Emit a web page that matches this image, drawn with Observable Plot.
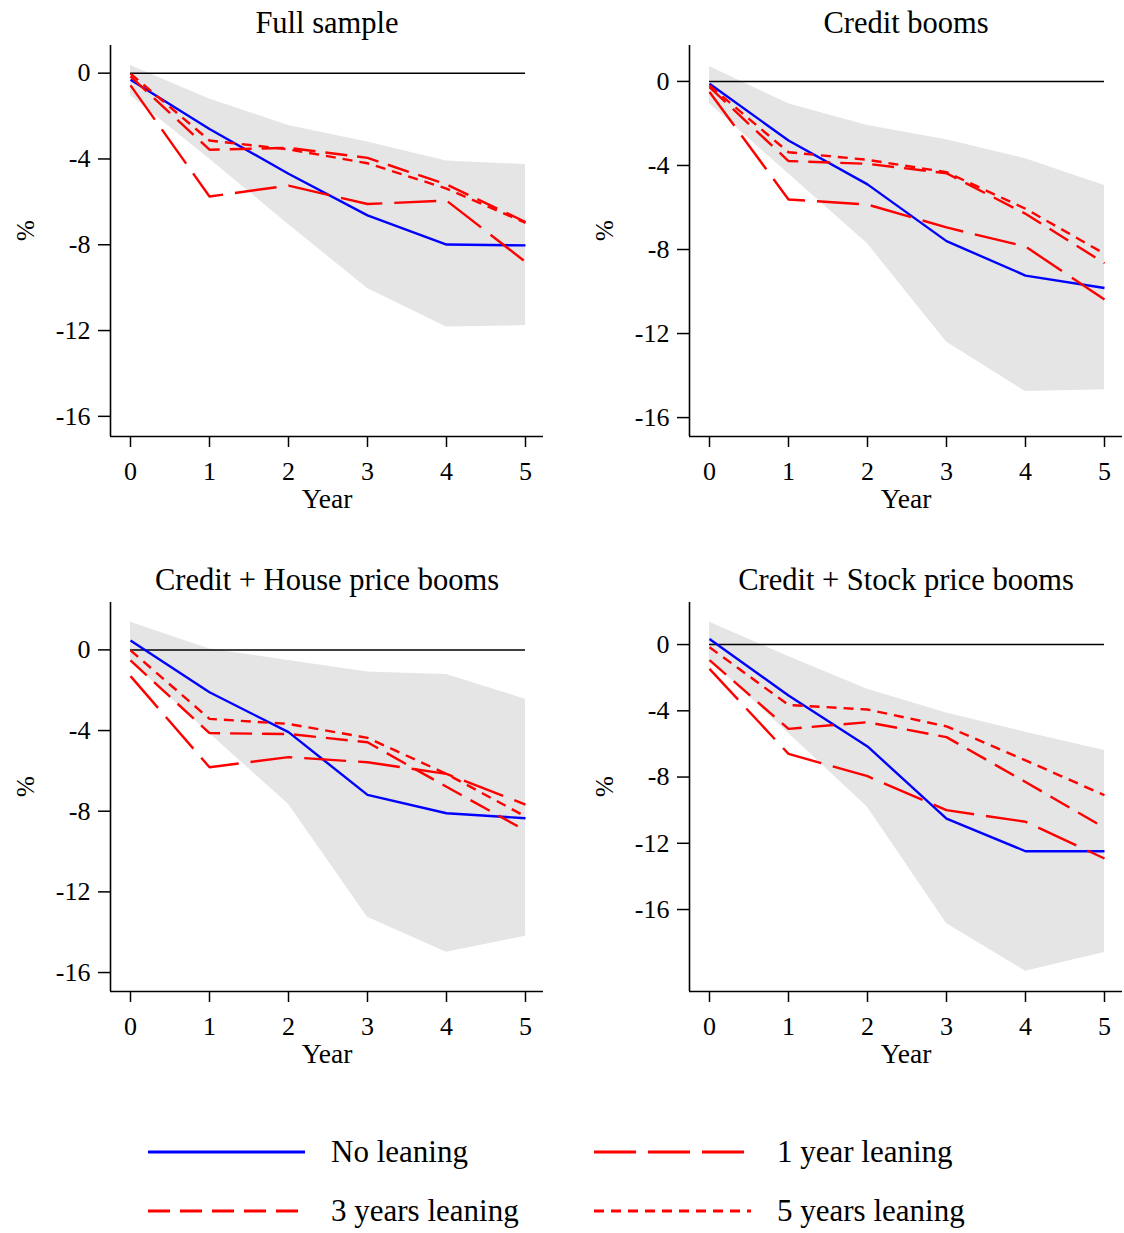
<!DOCTYPE html>
<html><head><meta charset="utf-8">
<script src="https://cdn.jsdelivr.net/npm/d3@7"></script>
<script src="https://cdn.jsdelivr.net/npm/@observablehq/plot@0.6"></script>
<style>
body{margin:0;background:#fff;}
#root{position:relative;width:1124px;height:1233px;font-family:"Liberation Serif",serif;overflow:hidden;}
.panel{position:absolute;width:560px;}
.panel svg{max-width:none !important;}
</style></head><body><div id="root"></div>
<script>
// ---------- data ----------
const years = [0, 1, 2, 3, 4, 5];
const panelTitles = ["Full sample", "Credit booms", "Credit + House price booms", "Credit + Stock price booms"];
const yTicks = [0, -4, -8, -12, -16];
const seriesNames = ["No leaning", "1 year leaning", "3 years leaning", "5 years leaning"];

// Full sample
const fullNoLean = [-0.31, -2.6, -4.69, -6.63, -7.99, -8.03];
const fullLean1  = [-0.57, -5.75, -5.24, -6.1, -5.94, -8.8];
const fullLean3  = [-0.15, -3.57, -3.48, -3.95, -5.19, -6.94];
const fullLean5  = [-0.02, -3.14, -3.55, -4.2, -5.38, -6.98];
const fullHi     = [0.36, -1.2, -2.44, -3.21, -4.1, -4.26];
const fullLo     = [-1.04, -4.0, -7.05, -10.04, -11.84, -11.77];

// Credit booms
const creditNoLean = [-0.11, -2.81, -4.9, -7.6, -9.24, -9.83];
const creditLean1  = [-0.5, -5.62, -5.86, -6.95, -7.86, -10.38];
const creditLean3  = [-0.27, -3.79, -3.92, -4.37, -6.3, -8.65];
const creditLean5  = [-0.19, -3.37, -3.73, -4.32, -6.06, -8.2];
const creditHi     = [0.71, -1.06, -2.1, -2.78, -3.68, -4.95];
const creditLo     = [-1.06, -4.4, -7.73, -12.4, -14.76, -14.68];

// Credit + House price booms
const houseNoLean = [0.46, -2.1, -4.08, -7.19, -8.1, -8.35];
const houseLean1  = [-1.3, -5.82, -5.32, -5.57, -6.15, -7.67];
const houseLean3  = [-0.52, -4.13, -4.17, -4.58, -6.79, -8.96];
const houseLean5  = [-0.02, -3.42, -3.67, -4.36, -6.15, -8.26];
const houseHi     = [1.37, 0.05, -0.53, -1.1, -1.22, -2.45];
const houseLo     = [-0.55, -4.15, -7.65, -13.26, -14.99, -14.2];

// Credit + Stock price booms
const stockNoLean = [0.34, -3.08, -6.15, -10.51, -12.48, -12.48];
const stockLean1  = [-1.47, -6.6, -7.95, -10.0, -10.7, -12.92];
const stockLean3  = [-0.94, -5.09, -4.69, -5.59, -8.3, -11.06];
const stockLean5  = [-0.16, -3.65, -3.92, -4.94, -6.99, -9.1];
const stockHi     = [1.35, -0.72, -2.7, -4.14, -5.29, -6.39];
const stockLo     = [-0.9, -5.35, -9.82, -16.84, -19.72, -18.6];

// ---------- styles ----------
const seriesStyles = [
  {stroke: "#0000ff", dash: null},
  {stroke: "#ff0000", dash: "42,12"},
  {stroke: "#ff0000", dash: "22,10"},
  {stroke: "#ff0000", dash: "10,7"}
];

const panels = [
  {title: panelTitles[0], lines: [fullNoLean, fullLean1, fullLean3, fullLean5], hi: fullHi, lo: fullLo,
   left: 0, top: 0, yDomain: [-16.94, 1.29], frameH: 391},
  {title: panelTitles[1], lines: [creditNoLean, creditLean1, creditLean3, creditLean5], hi: creditHi, lo: creditLo,
   left: 579, top: 0, yDomain: [-16.9, 1.71], frameH: 391},
  {title: panelTitles[2], lines: [houseNoLean, houseLean1, houseLean3, houseLean5], hi: houseHi, lo: houseLo,
   left: 0, top: 557, yDomain: [-16.94, 2.35], frameH: 389},
  {title: panelTitles[3], lines: [stockNoLean, stockLean1, stockLean3, stockLean5], hi: stockHi, lo: stockLo,
   left: 579, top: 557, yDomain: [-20.95, 2.54], frameH: 389}
];

const root = document.getElementById("root");
const W = 560, H = 520, MT = 45, ML = 110, MR = W - 543;
const xDomain = [-20 / 79, 5 + 18 / 79];

for (const p of panels) {
  const band = years.map((yr, i) => ({year: yr, hi: p.hi[i], lo: p.lo[i]}));
  const lineMarks = p.lines.map((vals, s) =>
    Plot.line(years.map((yr, i) => ({year: yr, v: vals[i]})), {
      x: "year", y: "v", stroke: seriesStyles[s].stroke, strokeWidth: 2.4,
      strokeDasharray: seriesStyles[s].dash, strokeLinejoin: "miter", strokeLinecap: "butt"
    })
  );
  const chart = Plot.plot({
    width: W, height: H,
    marginTop: MT, marginLeft: ML, marginRight: MR, marginBottom: H - MT - p.frameH,
    x: {domain: xDomain},
    y: {domain: p.yDomain},
    style: {fontFamily: "'Liberation Serif', serif", fontSize: "26px", color: "#000", background: "#fff", overflow: "visible", maxWidth: "none"},
    marks: [
      Plot.areaY(band, {x: "year", y1: "lo", y2: "hi", fill: "#e5e5e5"}),
      Plot.ruleY([0], {x1: years[0], x2: years[years.length - 1], stroke: "#000", strokeWidth: 1.5}),
      ...lineMarks,
      Plot.ruleX([xDomain[0]], {stroke: "#000", strokeWidth: 1.6}),
      Plot.ruleY([p.yDomain[0]], {stroke: "#000", strokeWidth: 1.6}),
      Plot.axisY({ticks: yTicks, tickSize: 12, tickPadding: 8, tickFormat: d => String(d), label: null, strokeWidth: 1.5}),
      Plot.axisX({ticks: years, tickSize: 11, tickPadding: 14, tickFormat: d => String(d), label: null, strokeWidth: 1.5}),
      Plot.text([p.title], {frameAnchor: "top", lineAnchor: "bottom", dy: -13, fontSize: 30.5, fill: "#000"}),
      Plot.text(["Year"], {frameAnchor: "bottom", dy: 71, fontSize: 27.5, fill: "#000"}),
      Plot.text(["%"], {frameAnchor: "left", rotate: -90, dx: -85, fontSize: 25, fill: "#000"})
    ]
  });
  const div = document.createElement("div");
  div.className = "panel";
  div.style.left = p.left + "px";
  div.style.top = p.top + "px";
  div.appendChild(chart);
  root.appendChild(div);
}

// ---------- legend ----------
const legendPos = [
  {x: 148, y: 1152}, {x: 594, y: 1152}, {x: 148, y: 1211}, {x: 594, y: 1211}
];
const leg = d3.select(root).append("svg")
  .attr("width", 1124).attr("height", 140)
  .style("position", "absolute").style("left", "0px").style("top", "1100px");
seriesNames.forEach((name, i) => {
  const pos = legendPos[i];
  const g = leg.append("g").attr("transform", `translate(${pos.x},${pos.y - 1100})`);
  g.append("line").attr("x1", 0).attr("x2", 157).attr("y1", 0).attr("y2", 0)
    .attr("stroke", seriesStyles[i].stroke).attr("stroke-width", 3)
    .attr("stroke-dasharray", seriesStyles[i].dash);
  g.append("text").attr("x", 183).attr("y", 0).attr("dy", "0.32em")
    .attr("font-family", "'Liberation Serif', serif").attr("font-size", 31).attr("fill", "#000")
    .text(name);
});
</script>
</body></html>
